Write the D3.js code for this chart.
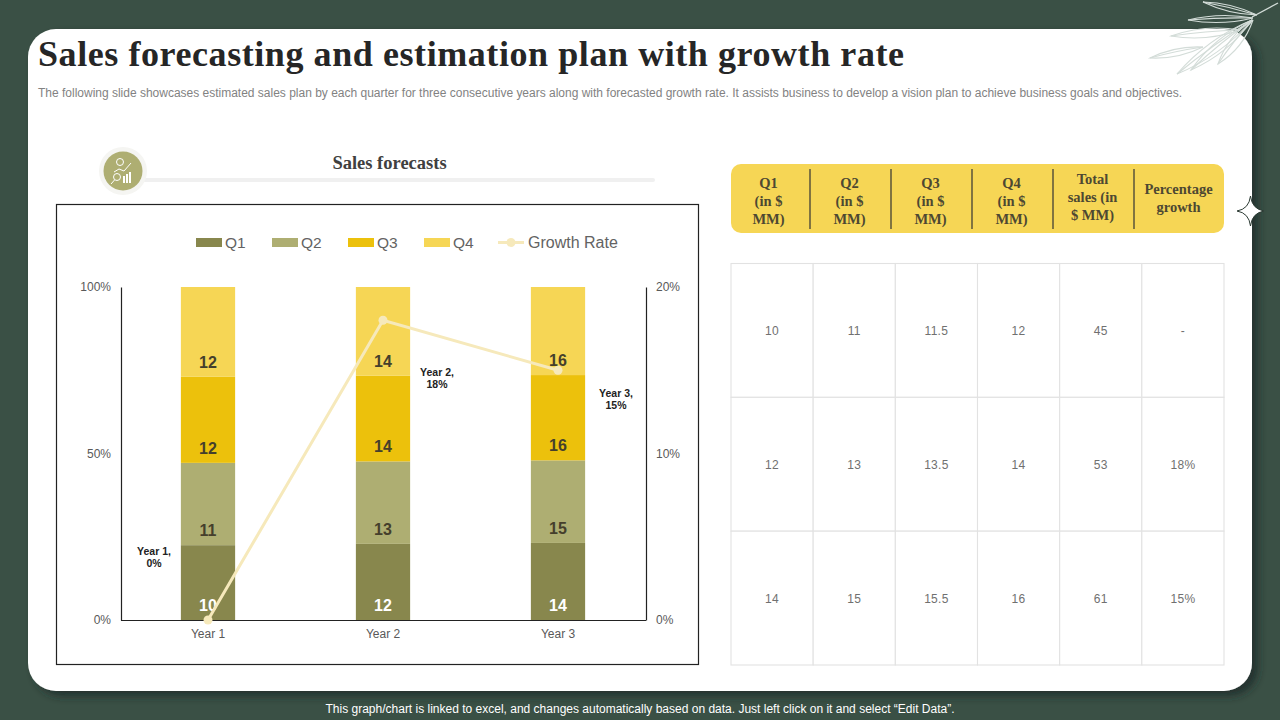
<!DOCTYPE html>
<html>
<head>
<meta charset="utf-8">
<script src="https://cdn.jsdelivr.net/npm/d3@7"></script>
<style>
  body { margin: 0; background: #3a5045; }
  svg { display: block; }
  text { font-family: "Liberation Sans", Arial, sans-serif; }
  .serif { font-family: "Liberation Serif", "Times New Roman", serif; font-weight: bold; }
</style>
</head>
<body>
<svg id="chart" width="1280" height="720"></svg>
<script>
// chart data
var years = ["Year 1", "Year 2", "Year 3"];
var quarters = ["Q1", "Q2", "Q3", "Q4"];
var q1 = [10, 12, 14];
var q2 = [11, 13, 15];
var q3 = [11.5, 13.5, 15.5];
var q4 = [12, 14, 16];
var totals = [45, 53, 61];
var growth = [0, 18, 15];
var colors = ["#88874d", "#aeae72", "#ecc10c", "#f6d655"];
var lineColor = "#f6e9bb";

// table text
var tableHeaders = [
  ["Q1", "(in $", "MM)"], ["Q2", "(in $", "MM)"], ["Q3", "(in $", "MM)"],
  ["Q4", "(in $", "MM)"], ["Total", "sales (in", "$ MM)"], ["Percentage", "growth"]
];
var growthText = ["-", "18%", "15%"];

var title = "Sales forecasting and estimation plan with growth rate";
var subtitle = "The following slide showcases estimated sales plan by each quarter for three consecutive years along with forecasted growth rate. It assists business to develop a vision plan to achieve business goals and objectives.";
var footer = "This graph/chart is linked to excel, and changes automatically based on data. Just left click on it and select \u201cEdit Data\u201d.";

var svg = d3.select("#chart");
var defs = svg.append("defs");
var shadow = defs.append("filter").attr("id", "cardShadow")
  .attr("x", "-5%").attr("y", "-5%").attr("width", "110%").attr("height", "110%");
shadow.append("feDropShadow").attr("dx", 6).attr("dy", 5)
  .attr("stdDeviation", 4).attr("flood-color", "#1d2b25").attr("flood-opacity", 0.75);

// slide card
svg.append("rect")
  .attr("x", 28).attr("y", 29).attr("width", 1224).attr("height", 662)
  .attr("rx", 28).attr("fill", "#fff").attr("filter", "url(#cardShadow)");

// leaf decoration, top right corner
var leaves = svg.append("g").attr("fill", "none").attr("stroke", "#d3dcd8").attr("stroke-width", 1.1);
function leaf(x0, y0, x1, y1, w) {
  var mx = (x0 + x1) / 2, my = (y0 + y1) / 2;
  var dx = x1 - x0, dy = y1 - y0, len = Math.sqrt(dx * dx + dy * dy);
  var nx = -dy / len * w, ny = dx / len * w;
  leaves.append("path").attr("d", "M" + x0 + "," + y0 + "Q" + (mx + nx) + "," + (my + ny) + " " + x1 + "," + y1 +
    "Q" + (mx - nx) + "," + (my - ny) + " " + x0 + "," + y0);
  leaves.append("path").attr("d", "M" + x0 + "," + y0 + "Q" + (mx + nx * 0.25) + "," + (my + ny * 0.25) + " " + x1 + "," + y1);
}
leaves.append("path").attr("d", "M1278,3L1252,17").attr("stroke-width", 1.4);
leaf(1257, 15, 1203, 2, 6);
leaf(1253, 18, 1188, 20, 7);
leaf(1240, 30, 1171, 36, 9);
leaf(1203, 47, 1150, 58, 7);
leaf(1252, 20, 1177, 74, 11);
leaf(1252, 20, 1191, 70, 11);
leaf(1253, 20, 1218, 64, 10);

// heading
svg.append("text").attr("class", "serif")
  .attr("x", 38).attr("y", 66).attr("font-size", 36).attr("fill", "#262626")
  .attr("textLength", 866).attr("lengthAdjust", "spacing").text(title);
svg.append("text")
  .attr("x", 38).attr("y", 97).attr("font-size", 12).attr("fill", "#828282")
  .attr("textLength", 1144).attr("lengthAdjust", "spacing").text(subtitle);

// section heading with icon
svg.append("rect").attr("x", 140).attr("y", 178).attr("width", 515).attr("height", 4)
  .attr("rx", 2).attr("fill", "#f0f0f0");
svg.append("circle").attr("cx", 123).attr("cy", 171).attr("r", 24).attr("fill", "#f5f5f2");
svg.append("circle").attr("cx", 123).attr("cy", 171).attr("r", 19.5).attr("fill", "#aeae72");
var icon = svg.append("g").attr("stroke", "#fff").attr("fill", "none").attr("stroke-width", 1);
icon.append("circle").attr("cx", 120).attr("cy", 162).attr("r", 3.5);
icon.append("path").attr("d", "M114,172L119,169L124,171L131,163");
icon.append("circle").attr("cx", 117).attr("cy", 177).attr("r", 3.5);
icon.append("path").attr("d", "M114.5,180L111,184");
icon.selectAll("rect").data([176, 174, 172]).join("rect")
  .attr("x", function(d, i) { return 123 + i * 3; }).attr("y", function(d) { return d; })
  .attr("width", 2).attr("height", function(d) { return 183 - d; })
  .attr("fill", "#fff").attr("stroke", "none");
svg.append("text").attr("class", "serif")
  .attr("x", 389.5).attr("y", 169).attr("text-anchor", "middle")
  .attr("font-size", 18.5).attr("fill", "#404040").text("Sales forecasts");

// chart frame
svg.append("rect").attr("x", 56.5).attr("y", 204.5).attr("width", 642).attr("height", 460)
  .attr("fill", "#fff").attr("stroke", "#222").attr("stroke-width", 1.2);

var plot = { left: 121, right: 646, top: 287, bottom: 620 };
var x = d3.scaleBand().domain(years).range([plot.left - 0.5, plot.right - 0.5]).paddingInner(0.69).paddingOuter(0.345);
var y = d3.scaleLinear().domain([0, 1]).range([plot.bottom, plot.top]);
var yRight = d3.scaleLinear().domain([0, 20]).range([plot.bottom, plot.top]);

var rows = years.map(function(year, i) {
  return { year: year, Q1: q1[i], Q2: q2[i], Q3: q3[i], Q4: q4[i] };
});
var stacked = d3.stack().keys(quarters).offset(d3.stackOffsetExpand)(rows);

var series = svg.append("g").selectAll("g").data(stacked).join("g")
  .attr("fill", function(d, i) { return colors[i]; });
series.selectAll("rect").data(function(d) { return d; }).join("rect")
  .attr("x", function(d) { return x(d.data.year); })
  .attr("width", x.bandwidth())
  .attr("y", function(d) { return y(d[1]); })
  .attr("height", function(d) { return y(d[0]) - y(d[1]); });

// axes
function styleAxis(g) {
  g.select(".domain").attr("stroke", "#222").attr("stroke-width", 1.2);
  g.selectAll("text").attr("font-size", 12).attr("fill", "#595959")
    .style("font-family", '"Liberation Sans", Arial, sans-serif');
}
svg.append("g").attr("transform", "translate(" + plot.left + ",0)")
  .call(d3.axisLeft(y).tickValues([0, 0.5, 1]).tickFormat(d3.format(".0%")).tickSize(0).tickPadding(10))
  .call(styleAxis);
svg.append("g").attr("transform", "translate(" + plot.right + ",0)")
  .call(d3.axisRight(yRight).tickValues([0, 10, 20]).tickFormat(function(d) { return d + "%"; }).tickSize(0).tickPadding(10))
  .call(styleAxis);
svg.append("g").attr("transform", "translate(0," + plot.bottom + ")")
  .call(d3.axisBottom(x).tickSize(0).tickPadding(9))
  .call(styleAxis);

// growth line
var center = function(year) { return x(year) + x.bandwidth() / 2; };
svg.append("path").datum(growth)
  .attr("fill", "none").attr("stroke", lineColor).attr("stroke-width", 3)
  .attr("d", d3.line().x(function(d, i) { return center(years[i]); }).y(function(d) { return yRight(d); }));
svg.append("g").selectAll("circle").data(growth).join("circle")
  .attr("cx", function(d, i) { return center(years[i]); })
  .attr("cy", function(d) { return yRight(d); })
  .attr("r", 4.5).attr("fill", lineColor);

// stack value labels, sitting at the base of each segment
series.selectAll("text").data(function(d) { return d.map(function(p) { return { p: p, key: d.key }; }); }).join("text")
  .attr("x", function(d) { return center(d.p.data.year); })
  .attr("y", function(d) { return y(d.p[0]) - 15; })
  .attr("dy", "0.36em").attr("text-anchor", "middle")
  .attr("font-size", 16).attr("font-weight", "bold")
  .attr("fill", function(d) { return d.key === "Q1" ? "#fff" : "#453f2c"; })
  .text(function(d) { return Math.round(d.p.data[d.key]); });

// growth labels, placed like the manually dragged ones on the slide
var labelOffset = [[-54, -63], [54, 58], [58, 29]];
var growthLabels = svg.append("g").selectAll("text").data(growth).join("text")
  .attr("text-anchor", "middle").attr("font-size", 10.5).attr("font-weight", "bold").attr("fill", "#222")
  .attr("transform", function(d, i) {
    return "translate(" + (center(years[i]) + labelOffset[i][0]) + "," + (yRight(d) + labelOffset[i][1]) + ")";
  });
growthLabels.append("tspan").attr("x", 0).attr("dy", -2.5).text(function(d, i) { return years[i] + ","; });
growthLabels.append("tspan").attr("x", 0).attr("dy", 12.5).text(function(d) { return d + "%"; });

// legend
var legendItems = quarters.map(function(q, i) { return { name: q, color: colors[i], x: 196 + i * 76 }; });
var legend = svg.append("g").selectAll("g").data(legendItems).join("g")
  .attr("transform", function(d) { return "translate(" + d.x + ",238)"; });
legend.append("rect").attr("width", 26).attr("height", 9).attr("fill", function(d) { return d.color; });
legend.append("text").attr("x", 29).attr("y", 10).attr("font-size", 15.5).attr("fill", "#636363")
  .text(function(d) { return d.name; });
var legendLine = svg.append("g").attr("transform", "translate(498,242.5)");
legendLine.append("line").attr("x2", 26).attr("stroke", lineColor).attr("stroke-width", 3);
legendLine.append("circle").attr("cx", 13).attr("r", 4.5).attr("fill", lineColor);
legendLine.append("text").attr("x", 30).attr("y", 5.5).attr("font-size", 16).attr("fill", "#636363").text("Growth Rate");

// table header
svg.append("rect").attr("x", 731).attr("y", 164).attr("width", 493).attr("height", 69)
  .attr("rx", 10).attr("fill", "#f6d655");
var headerX = d3.scaleBand().domain(d3.range(6)).range([729, 1134 + 81]);
svg.append("g").selectAll("line").data(d3.range(1, 6)).join("line")
  .attr("x1", function(d) { return headerX(d); }).attr("x2", function(d) { return headerX(d); })
  .attr("y1", 169).attr("y2", 229).attr("stroke", "#333").attr("stroke-width", 1.2);
var headerText = svg.append("g").selectAll("text").data(tableHeaders).join("text")
  .attr("class", "serif").attr("text-anchor", "middle").attr("font-size", 14.5).attr("fill", "#4d4832");
headerText.selectAll("tspan").data(function(d, i) {
    return d.map(function(t, j) {
      var top = d.length === 2 ? 194 : (i === 4 ? 184 : 188);
      return { t: t, y: top + j * 18, x: i === 5 ? 1178.5 : headerX(i) + headerX.bandwidth() / 2 - 1 };
    });
  }).join("tspan")
  .attr("x", function(d) { return d.x; }).attr("y", function(d) { return d.y; })
  .text(function(d) { return d.t; });

// table body
var tableColumns = [q1, q2, q3, q4, totals, growthText];
var colX = d3.scaleBand().domain(d3.range(6)).range([731, 1224]);
var rowY = d3.scaleBand().domain(d3.range(3)).range([263.5, 665]);
var cells = [];
tableColumns.forEach(function(col, c) {
  col.forEach(function(v, r) { cells.push({ c: c, r: r, v: v }); });
});
var cell = svg.append("g").selectAll("g").data(cells).join("g")
  .attr("transform", function(d) { return "translate(" + colX(d.c) + "," + rowY(d.r) + ")"; });
cell.append("rect").attr("width", colX.bandwidth()).attr("height", rowY.bandwidth())
  .attr("fill", "#fff").attr("stroke", "#e2e2e2").attr("stroke-width", 1.1);
cell.append("text").attr("x", colX.bandwidth() / 2).attr("y", rowY.bandwidth() / 2 + 1)
  .attr("dy", "0.32em").attr("text-anchor", "middle").attr("font-size", 12).attr("fill", "#707070")
  .attr("letter-spacing", 0.3)
  .text(function(d) { return d.v; });

// star on the card edge
svg.append("path")
  .attr("d", "M1250.5,196Q1252,209 1264,211Q1252,213 1250.5,226Q1249,213 1237,211Q1249,209 1250.5,196Z")
  .attr("fill", "#fff").attr("stroke", "#2b3a33").attr("stroke-width", 1);

// footer note
svg.append("text").attr("x", 640).attr("y", 713).attr("text-anchor", "middle")
  .attr("font-size", 12).attr("fill", "#fff").text(footer);
</script>
</body>
</html>
